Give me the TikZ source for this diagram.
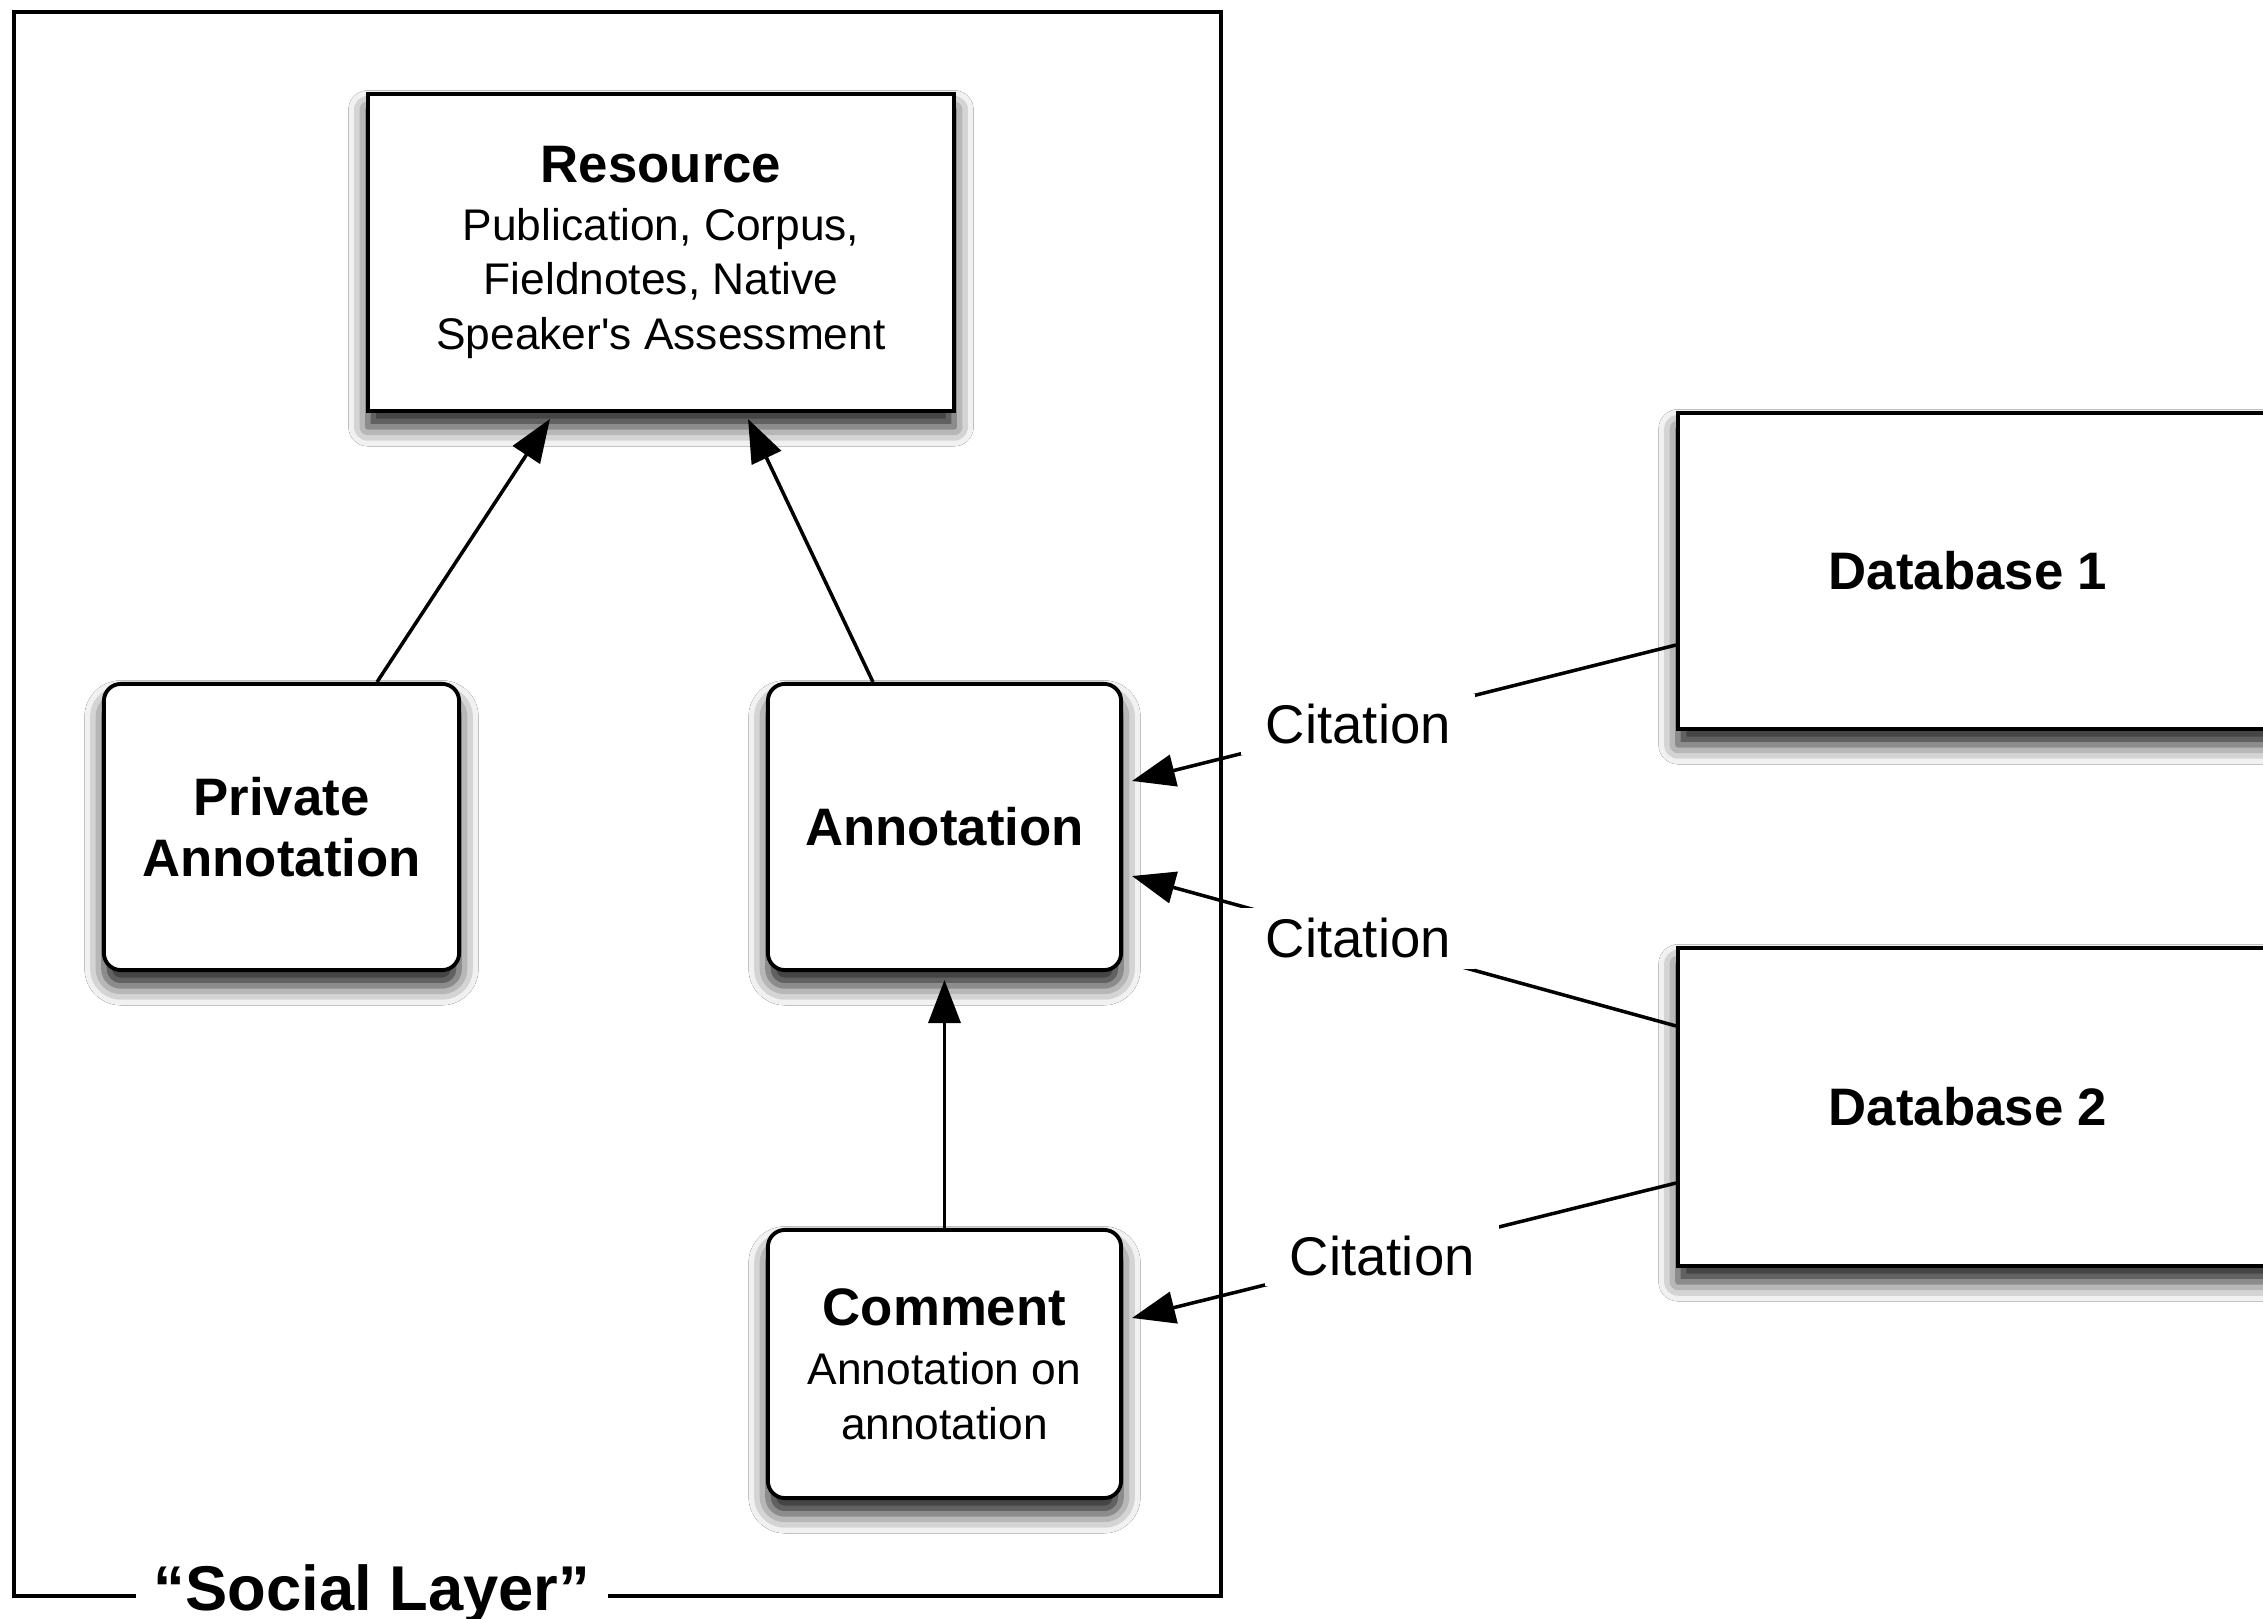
\documentclass[tikz,border=0pt]{standalone}
\usepackage{fontspec}
\setmainfont{Liberation Sans}[Ligatures=TeXOff]
\usetikzlibrary{arrows.meta,shadows.blur}
\newcommand\mytitle{\fontsize{15pt}{17.5pt}\selectfont\bfseries}
\newcommand\mysub{\fontsize{12.6pt}{15.6pt}\selectfont}
\begin{document}
\begin{tikzpicture}[x=0.01cm,y=-0.01cm,
  boxshadow/.style={blur shadow={shadow xshift=0pt,shadow yshift=-4.5pt,shadow blur radius=5.5pt,shadow opacity=90}},
  sqbox/.style={draw,line width=1.1pt,fill=white,boxshadow,inner sep=2pt,align=center},
  rbox/.style={sqbox,rounded corners=0.17cm},
  conn/.style={line width=1pt,-{Triangle[length=0.43cm,width=0.32cm]}},
  citelabel/.style={fill=white,inner xsep=7pt,inner ysep=3pt,font=\fontsize{15.5pt}{18pt}\selectfont}
]
\useasboundingbox (0,0) rectangle (2263,1619);
\fill[white] (0,0) rectangle (2263,1619);
% social layer frame
\draw[line width=1.1pt] (14,12) rectangle (1221,1596);
\node[fill=white,inner xsep=5pt,inner ysep=1pt,anchor=base,font=\fontsize{18pt}{20pt}\selectfont\bfseries] (social) at (372,1610) {“Social Layer”};
% boxes
\node[sqbox,minimum width=5.86cm,minimum height=3.17cm,font=\mysub] (res) at (661,252.5)
  {{\mytitle Resource}\\[0.8pt]Publication, Corpus,\\Fieldnotes, Native\\Speaker's Assessment};
\node[rbox,minimum width=3.55cm,minimum height=2.86cm,font=\mytitle] (priv) at (281.5,827) {Private\\Annotation};
\node[rbox,minimum width=3.53cm,minimum height=2.86cm,font=\mytitle] (ann) at (944.5,827) {Annotation};
\node[rbox,minimum width=3.53cm,minimum height=2.68cm,font=\mysub] (com) at (944.5,1364)
  {{\mytitle Comment}\\[1.2pt]Annotation on\\annotation};
\node[sqbox,anchor=west,minimum width=6.3cm,minimum height=3.16cm,font=\mytitle] (db1) at (1676,571) {Database 1\hspace*{0.5cm}};
\node[sqbox,anchor=west,minimum width=6.3cm,minimum height=3.18cm,font=\mytitle] (db2) at (1676,1107) {Database 2\hspace*{0.5cm}};
% arrows
\draw[conn] ([xshift=0.955cm]priv.north) -- ([xshift=-1.11cm,yshift=-0.06cm]res.south);
\draw[conn] ([xshift=-0.715cm]ann.north) -- ([xshift=0.87cm,yshift=-0.06cm]res.south);
\draw[conn] (com.north) -- ([yshift=-0.08cm]ann.south);
% citations
\draw[conn] ([yshift=-0.74cm]db1.west) -- node[citelabel,pos=0.584] (cit1) {Citation} ([xshift=0.09cm,yshift=0.46cm]ann.east);
\draw[conn] ([yshift=0.81cm]db2.west) -- node[citelabel,pos=0.584] (cit2) {Citation} ([xshift=0.09cm,yshift=-0.49cm]ann.east);
\draw[conn] ([yshift=-0.76cm]db2.west) -- node[citelabel,pos=0.54] (cit3) {Citation} ([xshift=0.09cm,yshift=0.46cm]com.east);
\end{tikzpicture}
\end{document}
